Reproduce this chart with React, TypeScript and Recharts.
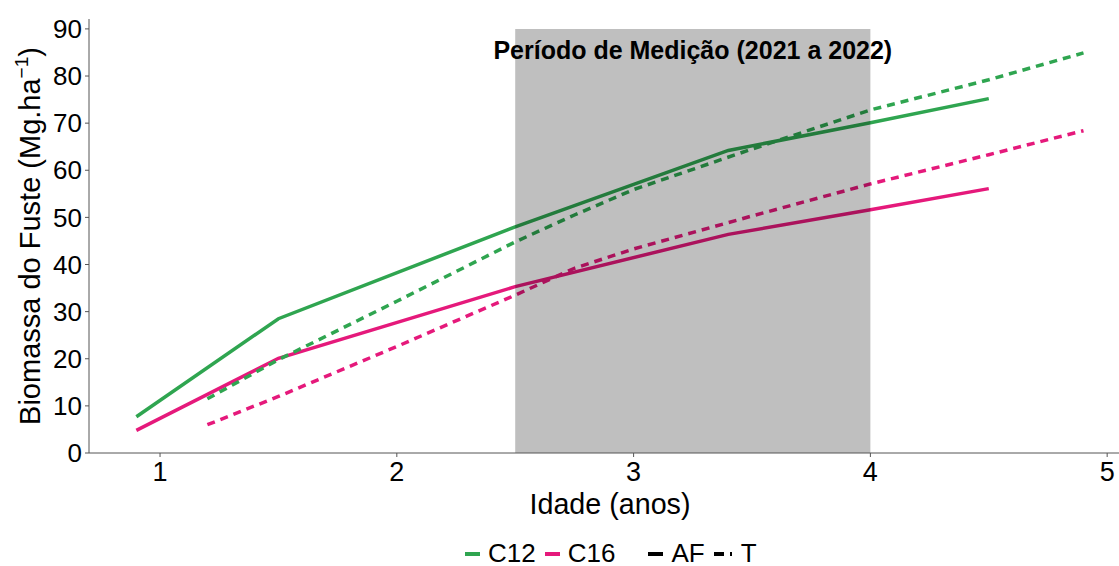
import { LineChart, Line, XAxis, YAxis, ReferenceArea, Legend } from "recharts";

const afAges = [0.9, 1.5, 2.5, 3.4, 4.0, 4.5];
const c12Af = [7.7, 28.5, 48, 64.2, 70.1, 75.2];
const c16Af = [4.8, 20.1, 35.3, 46.4, 51.6, 56.1];

const tAges = [1.2, 1.5, 2.0, 2.5, 2.75, 3.0, 3.5, 4.0, 4.5, 4.9];
const c12T = [11.5, 19.8, 32.2, 44.8, 50.5, 55.9, 64.5, 72.8, 79.2, 84.9];
const c16T = [6.0, 12.0, 22.6, 33.5, 39.2, 43.3, 50.3, 57.1, 63.3, 68.4];

const xTicks = [1, 2, 3, 4, 5];
const yTicks = [0, 10, 20, 30, 40, 50, 60, 70, 80, 90];
const period = { from: 2.5, to: 4.0, top: 90, label: "Período de Medição (2021 a 2022)" };

const GREEN = "#2FA550";
const PINK = "#E5197B";
const FONT = "'Liberation Sans', Arial, sans-serif";

const toPoints = (xs: number[], ys: number[]) => xs.map((x, i) => ({ x, y: ys[i] }));

const series = [
  { name: "C12 AF", data: toPoints(afAges, c12Af), color: GREEN, dash: undefined },
  { name: "C16 AF", data: toPoints(afAges, c16Af), color: PINK, dash: undefined },
  { name: "C12 T", data: toPoints(tAges, c12T), color: GREEN, dash: "8 6" },
  { name: "C16 T", data: toPoints(tAges, c16T), color: PINK, dash: "8 6" },
];

function LegendBox() {
  const swatch = (color: string, dash?: string, w = 15) => (
    <svg width={w} height={6} style={{ marginRight: 8 }}>
      <line x1={0} y1={3} x2={w} y2={3} stroke={color} strokeWidth={4} strokeDasharray={dash} />
    </svg>
  );
  const text = { fontSize: 26, color: "#000", marginRight: 9 };
  return (
    <div style={{ display: "flex", alignItems: "center", fontFamily: FONT, paddingLeft: 465 }}>
      {swatch(GREEN)}
      <span style={text}>C12</span>
      {swatch(PINK)}
      <span style={{ ...text, marginRight: 33 }}>C16</span>
      {swatch("#000")}
      <span style={text}>AF</span>
      {swatch("#000", "10 6 2 100", 19)}
      <span style={text}>T</span>
    </div>
  );
}

export default function App() {
  return (
    <div style={{ position: "absolute", left: 0, top: 0, background: "#fff" }}>
      <LineChart width={1119} height={566} margin={{ top: 19, right: 0, bottom: 0, left: 0 }}>
        <XAxis
          type="number"
          dataKey="x"
          domain={[0.7, 5.05]}
          ticks={xTicks}
          allowDataOverflow
          height={113}
          tickSize={4}
          tickMargin={5}
          stroke="#555"
          tick={{ fill: "#000", fontSize: 27, fontFamily: FONT }}
          label={({ viewBox }: any) => (
            <text
              x={viewBox.x + viewBox.width / 2 + 6}
              y={viewBox.y + 61}
              textAnchor="middle"
              fontSize={30}
              fontFamily={FONT}
              fill="#000"
              textLength={161}
              lengthAdjust="spacingAndGlyphs"
            >
              Idade (anos)
            </text>
          )}
        />
        <YAxis
          type="number"
          domain={[0, 92.1]}
          ticks={yTicks}
          allowDataOverflow
          width={89}
          tickSize={4}
          tickMargin={3}
          stroke="#555"
          tick={{ fill: "#000", fontSize: 26, fontFamily: FONT }}
          label={() => (
            <text
              transform="translate(40, 236) rotate(-90)"
              textAnchor="middle"
              fontSize={29}
              fontFamily={FONT}
              fill="#000"
            >
              Biomassa do Fuste (Mg.ha
              <tspan dy={-12} fontSize={19}>
                −1
              </tspan>
              <tspan dy={12}>)</tspan>
            </text>
          )}
        />
        {series.map((s) => (
          <Line
            key={s.name}
            data={s.data}
            dataKey="y"
            name={s.name}
            type="linear"
            stroke={s.color}
            strokeWidth={3.5}
            strokeDasharray={s.dash}
            dot={false}
            activeDot={false}
            isAnimationActive={false}
          />
        ))}
        <ReferenceArea
          x1={period.from}
          x2={period.to}
          y1={0}
          y2={period.top}
          fill="#000"
          fillOpacity={0.25}
          stroke="none"
          zIndex={450}
          label={{
            value: period.label,
            position: "insideTop",
            offset: 12,
            fill: "#000",
            fontSize: 25,
            fontWeight: "bold",
            fontFamily: FONT,
          }}
        />
        <Legend
          layout="horizontal"
          verticalAlign="middle"
          align="center"
          wrapperStyle={{ position: "absolute", left: 0, top: 538, width: 1119 }}
          content={() => <LegendBox />}
        />
      </LineChart>
    </div>
  );
}
